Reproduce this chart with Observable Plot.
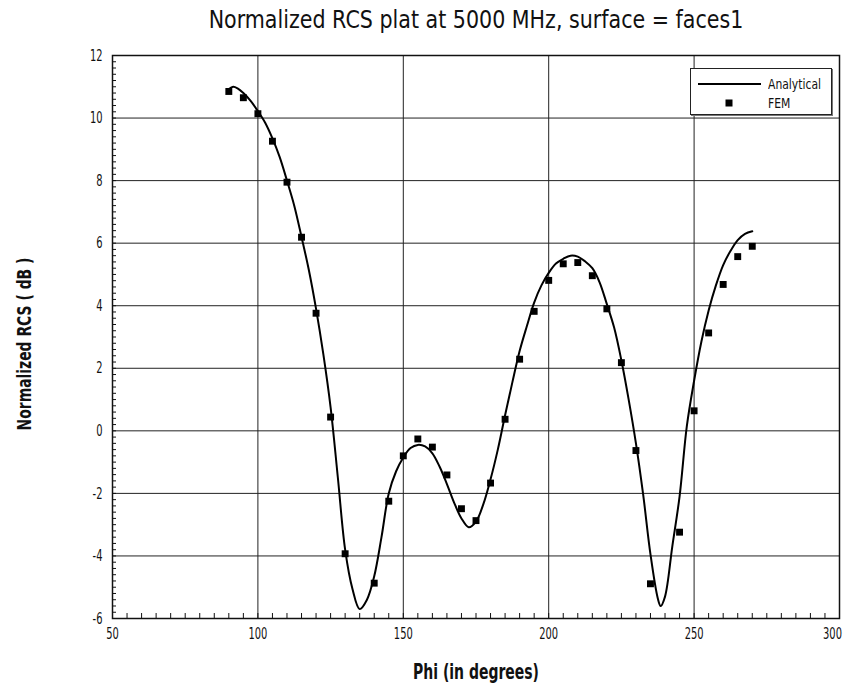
<!DOCTYPE html>
<html><head><meta charset="utf-8">
<script src="https://cdn.jsdelivr.net/npm/d3@7"></script>
<script src="https://cdn.jsdelivr.net/npm/@observablehq/plot@0.6"></script>
<style>
body{margin:0;background:#fff;}
#wrap{position:relative;width:846px;height:687px;font-family:"DejaVu Sans",sans-serif;}
#legend{position:absolute;left:690px;top:68px;width:140px;height:45px;border:1px solid #222;box-shadow:1px 1px 0 #777;background:#fff;font-size:13.5px;color:#111;}
#legend svg{position:absolute;left:0;top:0;}
#legend .lab{position:absolute;left:77px;line-height:14px;transform:scaleX(0.8);transform-origin:left center;white-space:nowrap;}
</style></head><body><div id="wrap"></div>
<script>
const titleText = "Normalized RCS plat at 5000 MHz, surface = faces1";
const xLabel = "Phi (in degrees)";
const yLabel = "Normalized RCS ( dB )";
const seriesNames = ["Analytical", "FEM"];

// Analytical curve
const phiA = [90,91.5,93,95,97.5,100,102.5,105,107.5,110,112.5,115,117.5,120,122.5,125,127.5,130,132.5,135,137.5,140,142.5,145,147.5,150,152.5,155,157.5,160,162.5,165,167.5,170,172.5,175,177.5,180,182.5,185,187.5,190,192.5,195,197.5,200,202.5,205,207.5,210,212.5,215,217.5,220,222.5,225,227.5,230,232.5,235,237.5,238.5,240,242.5,245,247.5,250,252.5,255,257.5,260,262.5,265,267.5,270];
const rcsA = [10.93,11.0,10.95,10.8,10.55,10.22,9.85,9.35,8.75,8.0,7.2,6.2,5.15,3.9,2.45,0.75,-1.5,-3.8,-5.05,-5.7,-5.4,-4.65,-3.4,-2.0,-1.3,-0.85,-0.55,-0.45,-0.5,-0.72,-1.15,-1.7,-2.3,-2.8,-3.08,-2.9,-2.35,-1.55,-0.6,0.5,1.55,2.55,3.35,4.1,4.65,5.05,5.35,5.5,5.6,5.57,5.42,5.2,4.75,4.05,3.3,2.25,1.0,-0.4,-2.05,-3.95,-5.35,-5.6,-5.3,-3.7,-2.1,0.15,1.6,2.85,3.85,4.65,5.3,5.75,6.1,6.3,6.38];

// FEM points
const phiF = [90,95,100,105,110,115,120,125,130,140,145,150,155,160,165,170,175,180,185,190,195,200,205,210,215,220,225,230,235,245,250,255,260,265,270];
const rcsF = [10.85,10.65,10.14,9.26,7.95,6.19,3.76,0.44,-3.93,-4.87,-2.25,-0.80,-0.26,-0.52,-1.41,-2.49,-2.87,-1.67,0.37,2.29,3.82,4.81,5.34,5.38,4.96,3.90,2.18,-0.63,-4.89,-3.24,0.64,3.13,4.68,5.57,5.90];

const xTicks = [50,100,150,200,250,300];
const yTicks = [-6,-4,-2,0,2,4,6,8,10,12];
const xMinor = d3.range(50, 300.1, 5);
const yMinor = d3.range(-6, 12.01, 0.2);

const analytical = phiA.map((p,i)=>({phi:p, rcs:rcsA[i]}));
const fem = phiF.map((p,i)=>({phi:p, rcs:rcsF[i]}));

const chart = Plot.plot({
  width: 846,
  height: 687,
  marginLeft: 112,
  marginRight: 7,
  marginTop: 55,
  marginBottom: 69,
  style: {fontFamily: '"DejaVu Sans",sans-serif', fontSize: "16px", background: "white", color: "#111", overflow: "visible"},
  x: {domain: [50, 300]},
  y: {domain: [-6, 12]},
  marks: [
    Plot.gridX(xTicks, {stroke: "#222", strokeOpacity: 1, strokeWidth: 1}),
    Plot.gridY(yTicks, {stroke: "#222", strokeOpacity: 1, strokeWidth: 1}),
    Plot.axisX(xMinor, {tickSize: 5, dy: -5, text: null, label: null, stroke: "#111"}),
    Plot.axisY(yMinor, {tickSize: 4, dx: 4, text: null, label: null, stroke: "#111"}),
    Plot.axisX(xTicks, {tickSize: 0, tickPadding: 9, fontSize: 16, label: null, tickFormat: d => String(d)}),
    Plot.axisY(yTicks, {tickSize: 0, tickPadding: 10, fontSize: 16, label: null, tickFormat: d => d < 0 ? "-" + (-d) : String(d)}),
    Plot.frame({stroke: "#111", strokeWidth: 1.5}),
    Plot.line(analytical, {x: "phi", y: "rcs", stroke: "black", strokeWidth: 2, curve: "catmull-rom"}),
    Plot.dot(fem, {x: "phi", y: "rcs", symbol: "square", r: 3.9, fill: "black", stroke: null}),
    Plot.text([titleText], {frameAnchor: "top", lineAnchor: "middle", textAnchor: "middle", dy: -36, fontSize: 25, fill: "#111", className: "ttl"}),
    Plot.text([xLabel], {frameAnchor: "bottom", lineAnchor: "middle", textAnchor: "middle", dy: 53.5, fontSize: 21, fontWeight: "bold", fill: "#111", className: "xlab"}),
    Plot.text([yLabel], {frameAnchor: "left", lineAnchor: "middle", textAnchor: "middle", dx: -88, dy: 7, rotate: -90, fontSize: 19, fontWeight: "bold", fill: "#111", className: "ylab"})
  ]
});

const wrap = document.getElementById("wrap");
wrap.appendChild(chart);

// narrow the glyphs to mimic the condensed stroke font of the reference
function squeezeEl(t, sx, shift = 0) {
  const tr = t.getAttribute("transform");
  if (tr) {
    t.setAttribute("transform", tr + ` translate(${shift},0) scale(${sx},1)`);
  } else {
    const x = +(t.getAttribute("x") || 0), y = +(t.getAttribute("y") || 0);
    t.setAttribute("transform", `translate(${x + shift},${y}) scale(${sx},1) translate(${-x},${-y})`);
  }
}
function squeeze(sel, sx) { chart.querySelectorAll(sel).forEach(t => squeezeEl(t, sx, t.textContent === String(xTicks[xTicks.length - 1]) ? -7 : 0)); }
function squeezeTo(sel, width) {
  chart.querySelectorAll(sel).forEach(t => {
    const w = t.getComputedTextLength();
    if (w > 0) squeezeEl(t, width / w);
  });
}
squeeze('g[aria-label="x-axis tick label"] text', 0.62);
chart.querySelectorAll('g[aria-label="y-axis tick label"] text').forEach(t => squeezeEl(t, 0.62));
squeezeTo('.ttl text', 535);
squeezeTo('.xlab text', 126);
squeezeTo('.ylab text', 173);

const legend = document.createElement("div");
legend.id = "legend";
legend.innerHTML = `<svg width="140" height="45"><line x1="7" x2="70" y1="15" y2="15" stroke="black" stroke-width="2"/><rect x="34.5" y="30.5" width="7" height="7" fill="black"/></svg>
<div class="lab" style="top:8px">${seriesNames[0]}</div><div class="lab" style="top:27px">${seriesNames[1]}</div>`;
wrap.appendChild(legend);
</script>
</body></html>
